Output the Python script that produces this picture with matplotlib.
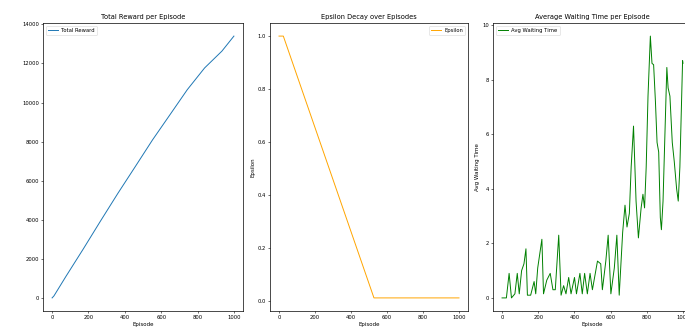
import matplotlib
matplotlib.use("Agg")
import matplotlib.pyplot as plt

# ---- data ----
reward_ep = [0, 10, 76, 171, 267, 362, 457, 552, 648, 743, 838, 933, 999]
reward_val = [0, 100, 1100, 2500, 3950, 5360, 6720, 8090, 9380, 10660, 11770, 12630, 13400]

eps_ep = [0, 24, 527, 999]
eps_val = [1.0, 1.0, 0.01, 0.01]

wait_ep = [0, 24, 39, 52, 71, 84, 95, 108, 121, 132, 140, 158, 177, 186, 197,
           220, 229, 247, 266, 281, 294, 313, 326, 340, 353, 368, 381, 400, 411,
           430, 443, 456, 471, 486, 499, 527, 545, 554, 573, 586, 601, 620, 634,
           647, 666, 679, 690, 703, 713, 726, 740, 753, 768, 778, 787, 796, 806,
           819, 828, 837, 847, 856, 865, 874, 880, 889, 899, 910, 917, 927, 940,
           951, 964, 973, 982, 997, 999]
wait_val = [0.0, 0.0, 0.9, 0.0, 0.15, 0.9, 0.15, 1.0, 1.25, 1.8, 0.1, 0.1, 0.6, 0.15, 1.1,
            2.15, 0.15, 0.65, 0.9, 0.3, 0.3, 2.3, 0.1, 0.45, 0.15, 0.75, 0.15, 0.75, 0.15,
            0.9, 0.15, 0.9, 0.15, 0.9, 0.3, 1.35, 1.25, 0.3, 1.35, 2.3, 0.15, 1.1, 2.3,
            0.1, 2.4, 3.4, 2.6, 3.1, 4.8, 6.3, 3.55, 2.2, 3.3, 3.8, 3.3, 4.8, 7.4,
            9.6, 8.6, 8.55, 7.2, 5.7, 5.35, 2.95, 2.5, 3.55, 5.9, 8.45, 7.7, 7.4, 5.7,
            5.0, 4.0, 3.55, 4.8, 8.7, 8.6]

titles = ["Total Reward per Episode", "Epsilon Decay over Episodes",
          "Average Waiting Time per Episode"]
labels = ["Total Reward", "Epsilon", "Avg Waiting Time"]
ylabels = [None, "Epsilon", "Avg Waiting Time"]
colors = ["#1f77b4", "orange", "green"]
legend_locs = ["upper left", "upper right", "upper left"]

plt.rcParams['font.family'] = ['DejaVu Sans']
W, H = 685, 331
fig = plt.figure(figsize=(W / 100, H / 100), dpi=100)

boxes = [(43, 200), (270, 198), (493, 199)]
top, bottom = 23, 311
axes = []
for (l, w) in boxes:
    ax = fig.add_axes([l / W, (H - bottom) / H, w / W, (bottom - top) / H])
    axes.append(ax)

series = [(reward_ep, reward_val), (eps_ep, eps_val), (wait_ep, wait_val)]
for i, ax in enumerate(axes):
    x, y = series[i]
    ax.plot(x, y, color=colors[i], lw=0.7, label=labels[i])
    ax.set_title(titles[i], fontsize=4.8, pad=3)
    ax.set_xlabel("Episode", fontsize=4.0, labelpad=1.5)
    if ylabels[i]:
        ax.set_ylabel(ylabels[i], fontsize=4.0, labelpad=1.5)
    ax.tick_params(labelsize=3.8, length=1.5, width=0.4, pad=1.5)
    for s in ax.spines.values():
        s.set_linewidth(0.5)
    ax.set_xticks([0, 200, 400, 600, 800, 1000])
    leg = ax.legend(loc=legend_locs[i], fontsize=3.8, handlelength=2.0,
                    borderpad=0.4, handletextpad=0.6)
    leg.get_frame().set_linewidth(0.4)

axes[0].set_yticks(range(0, 14001, 2000))
axes[1].set_yticks([0.0, 0.2, 0.4, 0.6, 0.8, 1.0])
axes[2].set_yticks([0, 2, 4, 6, 8, 10])

fig.savefig("out.png", dpi=100)
